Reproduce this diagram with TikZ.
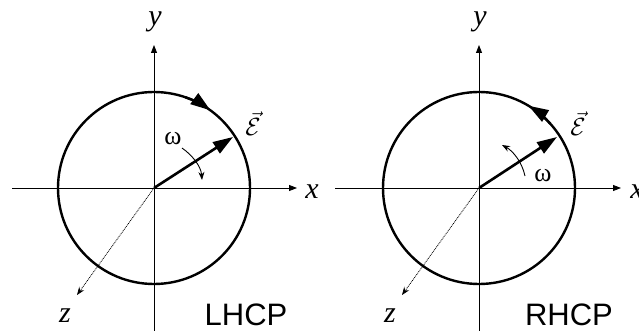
\documentclass[tikz,border=0pt]{standalone}
\usepackage[no-math]{fontspec}
\setmainfont{Liberation Serif}
\setsansfont{Liberation Sans}
\usetikzlibrary{arrows.meta}
\newcommand{\evecsym}{$\vec{\mathcal{E}}$}
\begin{document}
\begin{tikzpicture}[x=1pt,y=-1pt,
  axis/.style={line width=0.9pt,-{Triangle[length=8pt,width=6pt]}},
  zaxis/.style={line width=0.8pt,dash pattern=on 0.9pt off 0.9pt,-{Stealth[length=8pt,width=6pt]}},
  ring/.style={line width=2.4pt},
  sense/.style={line width=2.4pt,-{Triangle[length=20pt,width=13pt]}},
  evec/.style={line width=2.6pt,-{Triangle[length=20pt,width=13pt]}},
  warrow/.style={line width=0.9pt,-{Stealth[length=8pt,width=6pt]}},
  axlabel/.style={inner sep=0pt,anchor=base,font=\fontsize{30}{30}\selectfont\itshape},
  wlabel/.style={inner sep=0pt,anchor=base,font=\fontsize{26}{26}\selectfont},
  elabel/.style={inner sep=0pt,anchor=base,font=\fontsize{24}{24}\selectfont},
  hlabel/.style={inner sep=0pt,anchor=base,font=\fontsize{31}{31}\selectfont\sffamily}]
\clip (0,0) rectangle (639,331);
\fill[white] (0,0) rectangle (639,331);
% ---------- left: LHCP ----------
\coordinate (LO) at (154,188);
\coordinate (Lyb) at (154,340);
\coordinate (Lyt) at (154,45);
\coordinate (Lxl) at (12,188);
\coordinate (Lxr) at (297,188);
\coordinate (Lz) at (77,295);
\coordinate (LE) at (233,137);
\coordinate (Lw1) at (182,148);
\coordinate (Lw2) at (202,180);
\draw[axis] (Lyb) -- (Lyt);
\draw[axis] (Lxl) -- (Lxr);
\draw[zaxis] (LO) -- (Lz);
\draw[ring] (LO) circle[radius=96pt];
\draw[sense] ([shift={(71:96pt)}]LO) arc[start angle=71,end angle=54,radius=96pt];
\draw[evec] (LO) -- (LE);
\draw[warrow] (Lw1) .. controls (192,155) and (201,166) .. (Lw2);
\node[axlabel] (Lylab) at (155,26) {y};
\node[axlabel] (Lxlab) at (312,198) {x};
\node[axlabel] (Lzlab) at (65,322) {z};
\node[wlabel] (Lwlab) at (173,145) {ω};
\node[elabel] (LElab) at (253,136) {\evecsym};
\node[hlabel] (Lhlab) at (246,325) {LHCP};
% ---------- right: RHCP ----------
\coordinate (RO) at (479,188);
\coordinate (Ryb) at (479,340);
\coordinate (Ryt) at (479,45);
\coordinate (Rxl) at (335,188);
\coordinate (Rxr) at (621,188);
\coordinate (Rz) at (402,295);
\coordinate (RE) at (557,137);
\coordinate (Rw1) at (525,176);
\coordinate (Rw2) at (502,145);
\draw[axis] (Ryb) -- (Ryt);
\draw[axis] (Rxl) -- (Rxr);
\draw[zaxis] (RO) -- (Rz);
\draw[ring] (RO) circle[radius=96pt];
\draw[sense] ([shift={(42:96pt)}]RO) arc[start angle=42,end angle=59,radius=96pt];
\draw[evec] (RO) -- (RE);
\draw[warrow] (Rw1) .. controls (522,162) and (513,151) .. (Rw2);
\node[axlabel] (Rylab) at (480,26) {y};
\node[axlabel] (Rxlab) at (637,198) {x};
\node[axlabel] (Rzlab) at (390,322) {z};
\node[wlabel] (Rwlab) at (543,182) {ω};
\node[elabel] (RElab) at (578,136) {\evecsym};
\node[hlabel] (Rhlab) at (569,325) {RHCP};
\end{tikzpicture}
\end{document}
